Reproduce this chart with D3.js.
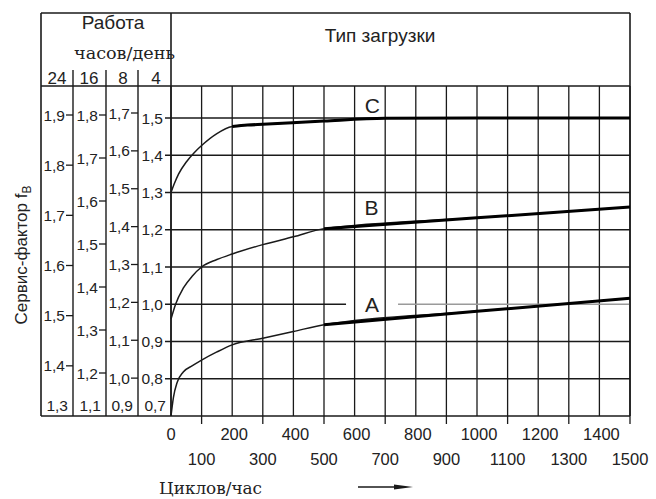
<!DOCTYPE html>
<html><head><meta charset="utf-8">
<script src="https://cdn.jsdelivr.net/npm/d3@7"></script>
<style>
html,body{margin:0;padding:0;background:#fff;}
svg{display:block;}
text{font-family:"Liberation Sans",Arial,sans-serif;fill:#222;}
.serif{font-family:"DejaVu Serif","Liberation Serif",serif;}
</style></head>
<body>
<script>
// ---------- data ----------
const hoursLabels = ["24", "16", "8", "4"];
const ticks24 = [1.3, 1.4, 1.5, 1.6, 1.7, 1.8, 1.9];
const ticks16 = [1.1, 1.2, 1.3, 1.4, 1.5, 1.6, 1.7, 1.8];
const ticks8  = [0.9, 1.0, 1.1, 1.2, 1.3, 1.4, 1.5, 1.6, 1.7];
const ticks4  = [0.7, 0.8, 0.9, 1.0, 1.1, 1.2, 1.3, 1.4, 1.5];
const xTicksEven = [0, 200, 400, 600, 800, 1000, 1200, 1400];
const xTicksOdd  = [100, 300, 500, 700, 900, 1100, 1300, 1500];
const gridX = [0,100,200,300,400,500,600,700,800,900,1000,1100,1200,1300,1400,1500];
// curves: [cycles/hour, service factor on the 4 h/day scale]
const curveC = [[0,1.30],[10,1.322],[25,1.35],[50,1.382],[75,1.406],[100,1.426],[150,1.458],[200,1.477],[250,1.481],[300,1.483],[500,1.492],[700,1.499],[1000,1.5],[1500,1.5]];
const curveB = [[0,0.96],[15,1.0],[40,1.043],[70,1.076],[100,1.10],[150,1.12],[200,1.135],[300,1.16],[400,1.181],[500,1.203],[1000,1.232],[1500,1.261]];
const curveA = [[0,0.70],[8,0.75],[20,0.79],[40,0.818],[70,0.835],[100,0.85],[150,0.872],[200,0.891],[300,0.909],[400,0.927],[500,0.945],[1000,0.981],[1500,1.016]];
const curveNames = ["C", "B", "A"];
const thickFrom = [180, 500, 500];
const labelPos = [[658, 1.535], [655, 1.26], [657, 1.0]];

// ---------- layout ----------
const W = 656, H = 499;
const L = 41, T = 13, HB = 86, PL = 171, PR = 630, PB = 416;
const colX = [41, 73, 106, 138, 171];

const svg = d3.select("body").append("svg").attr("width", W).attr("height", H);
svg.append("rect").attr("width", W).attr("height", H).attr("fill", "#fff");

const x = d3.scaleLinear().domain([0, 1500]).range([PL, PR]);
const y = d3.scaleLinear().domain([0.7, 1.5]).range([PB, 118]);
const colScales = [
  d3.scaleLinear().domain([1.3, 1.9]).range([PB, 115]),
  d3.scaleLinear().domain([1.1, 1.8]).range([PB, 115]),
  d3.scaleLinear().domain([0.9, 1.7]).range([PB, 113]),
  y
];
const colTicks = [ticks24, ticks16, ticks8, ticks4];

const ink = "#1a1a1a";
const g = svg.append("g");

// vertical grid
g.selectAll(".vg").data(gridX).enter().append("line")
  .attr("x1", d => x(d)).attr("x2", d => x(d))
  .attr("y1", HB).attr("y2", PB)
  .attr("stroke", ink).attr("stroke-width", 1.3);

// horizontal grid (1.0 line broken around label A)
const fmt = d => d.toFixed(1).replace(".", ",");
const aX = x(labelPos[2][0]);
ticks4.filter(v => v > 0.7).forEach(v => {
  if (Math.abs(v - 1.0) < 1e-9) {
    g.append("line").attr("x1", PL - 6).attr("x2", aX - 26).attr("y1", y(v)).attr("y2", y(v))
      .attr("stroke", ink).attr("stroke-width", 1.3);
    g.append("line").attr("x1", aX + 26).attr("x2", PR).attr("y1", y(v)).attr("y2", y(v))
      .attr("stroke", "#9a9a9a").attr("stroke-width", 1.3);
  } else {
    g.append("line").attr("x1", PL - 6).attr("x2", PR).attr("y1", y(v)).attr("y2", y(v))
      .attr("stroke", ink).attr("stroke-width", 1.3);
  }
});

// x bottom ticks at odd hundreds
g.selectAll(".xt").data(xTicksOdd).enter().append("line")
  .attr("x1", d => x(d)).attr("x2", d => x(d)).attr("y1", PB).attr("y2", PB + 8)
  .attr("stroke", ink).attr("stroke-width", 1.3);

// frame
const frame = [
  [L, T, PR, T], [PR, T, PR, PB], [L, PB, PR, PB], [L, T, L, PB],
  [L, HB, PR, HB], [PL, T, PL, PB]
];
frame.forEach(f => g.append("line").attr("x1", f[0]).attr("y1", f[1]).attr("x2", f[2]).attr("y2", f[3])
  .attr("stroke", ink).attr("stroke-width", 1.6));
[73, 106, 138].forEach(cx => g.append("line").attr("x1", cx).attr("x2", cx).attr("y1", 70).attr("y2", PB)
  .attr("stroke", ink).attr("stroke-width", 1.4));

// left multi-column scales
colTicks.forEach((tks, i) => {
  const s = colScales[i];
  const right = colX[i + 1];
  tks.forEach((v, j) => {
    if (j === 0) {
      g.append("text").attr("x", right - 5).attr("y", 411).attr("text-anchor", "end")
        .attr("font-size", 15.5).text(fmt(v));
    } else {
      if (i < 3) g.append("line").attr("x1", right - 7).attr("x2", right).attr("y1", s(v)).attr("y2", s(v))
        .attr("stroke", ink).attr("stroke-width", 1.3);
      g.append("text").attr("x", right - 8).attr("y", s(v)).attr("dy", "0.36em").attr("text-anchor", "end")
        .attr("font-size", 15.5).text(fmt(v));
    }
  });
});

// header texts
g.append("text").attr("x", 113).attr("y", 29).attr("text-anchor", "middle").attr("font-size", 19).text("Работа");
g.append("text").attr("class", "serif").attr("x", 74).attr("y", 59).attr("font-size", 17)
  .attr("textLength", 101).attr("lengthAdjust", "spacingAndGlyphs").text("часов/день");
const hx = [57, 89, 123, 156];
hoursLabels.forEach((h, i) => g.append("text").attr("x", hx[i]).attr("y", 84).attr("text-anchor", "middle")
  .attr("font-size", 17).text(h));
g.append("text").attr("x", 380).attr("y", 42).attr("text-anchor", "middle").attr("font-size", 19).text("Тип загрузки");

// x tick labels
g.selectAll(".xl1").data(xTicksEven).enter().append("text")
  .attr("x", d => x(d) + (d === 0 ? 0 : 2)).attr("y", 440).attr("text-anchor", "middle").attr("font-size", 16.5).text(d => d);
g.selectAll(".xl2").data(xTicksOdd).enter().append("text")
  .attr("x", d => x(d)).attr("y", 465).attr("text-anchor", "middle").attr("font-size", 16.5).text(d => d);

// x title and arrow
g.append("text").attr("class", "serif").attr("x", 159).attr("y", 494).attr("font-size", 16)
  .attr("textLength", 103).attr("lengthAdjust", "spacingAndGlyphs").text("Циклов/час");
g.append("line").attr("x1", 358).attr("x2", 400).attr("y1", 487).attr("y2", 487).attr("stroke", ink).attr("stroke-width", 1.3);
g.append("path").attr("d", "M394,484.5 L413,487 L394,489.5 Z").attr("fill", ink);

// y title
const yt = g.append("text").attr("transform", "translate(27,255) rotate(-90)").attr("text-anchor", "middle").attr("font-size", 17);
yt.append("tspan").text("Сервис-фактор f");
yt.append("tspan").attr("font-size", 12).attr("dy", 4).text("B");

// curves
const line = d3.line().x(d => x(d[0])).y(d => y(d[1])).curve(d3.curveMonotoneX);
[curveC, curveB, curveA].forEach((c, i) => {
  const thick = c.filter(d => d[0] >= thickFrom[i]);
  g.append("path").attr("d", line(c)).attr("fill", "none").attr("stroke", ink).attr("stroke-width", 1.5);
  g.append("path").attr("d", line(thick)).attr("fill", "none").attr("stroke", "#000").attr("stroke-width", 3);
  g.append("text").attr("x", x(labelPos[i][0])).attr("y", y(labelPos[i][1])).attr("dy", "0.36em")
    .attr("text-anchor", "middle").attr("font-size", 21).text(curveNames[i]);
});
</script>
</body></html>
